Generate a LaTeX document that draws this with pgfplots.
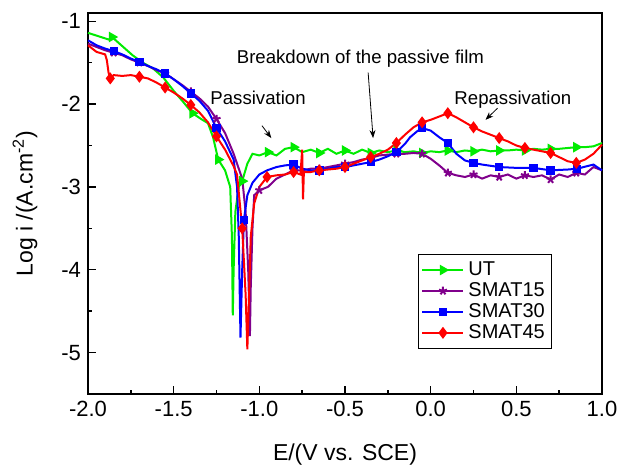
\documentclass[border=0pt]{standalone}
\usepackage{fontspec}
\setmainfont{Liberation Sans}
\usepackage{pgfplots}
\pgfplotsset{compat=1.18}
\usetikzlibrary{arrows.meta, calc}

\definecolor{cUT}{RGB}{0,235,0}
\definecolor{cS15}{RGB}{128,0,140}
\definecolor{cS30}{RGB}{0,0,255}
\definecolor{cS45}{RGB}{255,0,0}

\begin{document}
\begin{tikzpicture}
\begin{axis}[
  scale only axis,
  width=257pt, height=190.5pt,
  xmin=-2, xmax=1, ymin=-5.5, ymax=-0.9,
  xtick={-2,-1.5,...,1}, ytick={-5,-4,-3,-2,-1},
  minor x tick num=1, minor y tick num=1,
  tick align=inside, xtick pos=left, ytick pos=left,
  major tick length=4pt, minor tick length=2pt,
  axis line style={line width=0.8pt}, tick style={black, line width=0.7pt},
  /pgf/number format/assume math mode=true,
  xticklabel style={/pgf/number format/.cd, fixed, fixed zerofill, precision=1},
  yticklabel style={/pgf/number format/.cd, fixed, precision=0},
  ticklabel style={font=\fontsize{11}{12}\selectfont},
  xlabel={E/(V vs. SCE)}, ylabel={Log i /(A.cm\textsuperscript{-2})},
  label style={font=\fontsize{11.5}{13}\selectfont},
  xlabel style={at={(axis description cs:0.5,-0.160)}, anchor=center},
  ylabel style={at={(axis description cs:-0.1226,0.5)}, anchor=center},
  legend style={at={(0.642,0.367)}, anchor=north west, draw=black, line width=0.5pt,
    font=\fontsize{10}{11}\selectfont, inner sep=1.5pt, row sep=-2pt},
  legend cell align=left,
  legend image code/.code={\draw[mark indices={2}] plot coordinates {(0cm,0cm) (0.36cm,0cm) (0.72cm,0cm)};},
  every axis plot/.append style={line width=1pt, mark options={solid}},
  clip=false,
]
\addplot[color=cUT, mark=triangle*, mark size=2.1pt, mark options={rotate=-90},
  mark indices={4,12,16,24,28,31,34,37,40,43,46,49,52,55,58,61,64}] coordinates {
(-2.00,-1.14) (-1.94,-1.18) (-1.88,-1.22) (-1.86,-1.19) (-1.80,-1.30) (-1.74,-1.41)
(-1.68,-1.50) (-1.62,-1.57) (-1.56,-1.68) (-1.50,-1.84) (-1.45,-1.96) (-1.39,-2.11)
(-1.34,-2.18) (-1.30,-2.23) (-1.27,-2.40) (-1.24,-2.67) (-1.20,-2.80) (-1.17,-3.00)
(-1.16,-3.60) (-1.155,-4.55) (-1.15,-4.00) (-1.14,-3.30) (-1.12,-3.00) (-1.10,-2.93)
(-1.07,-2.72) (-1.04,-2.60) (-1.00,-2.62) (-0.95,-2.58) (-0.90,-2.62) (-0.85,-2.54)
(-0.80,-2.52) (-0.75,-2.58) (-0.70,-2.55) (-0.65,-2.59) (-0.60,-2.54) (-0.55,-2.60)
(-0.50,-2.56) (-0.45,-2.60) (-0.40,-2.55) (-0.35,-2.59) (-0.30,-2.56) (-0.25,-2.58)
(-0.20,-2.56) (-0.15,-2.58) (-0.10,-2.57) (-0.05,-2.59) (0.00,-2.57) (0.05,-2.58)
(0.10,-2.56) (0.15,-2.58) (0.20,-2.56) (0.25,-2.57) (0.30,-2.55) (0.35,-2.57)
(0.40,-2.56) (0.45,-2.56) (0.50,-2.55) (0.55,-2.56) (0.60,-2.54) (0.65,-2.55)
(0.70,-2.54) (0.75,-2.54) (0.80,-2.53) (0.85,-2.52) (0.90,-2.52) (0.95,-2.51) (1.00,-2.47)
};
\addlegendentry{UT}
\addplot[color=cS15, mark=star, mark size=2.1pt,
  mark indices={4,7,10,13,16,26,30,33,36,39,42,45,48,51,54,57,60,63}] coordinates {
(-2.00,-1.27) (-1.95,-1.31) (-1.90,-1.35) (-1.85,-1.38) (-1.80,-1.41) (-1.75,-1.46)
(-1.70,-1.50) (-1.65,-1.54) (-1.60,-1.59) (-1.55,-1.63) (-1.50,-1.70) (-1.45,-1.77)
(-1.40,-1.85) (-1.35,-1.93) (-1.30,-2.03) (-1.25,-2.18) (-1.20,-2.35) (-1.15,-2.60)
(-1.10,-2.90) (-1.08,-3.30) (-1.065,-4.00) (-1.055,-4.80) (-1.05,-4.20) (-1.04,-3.50)
(-1.03,-3.10) (-1.00,-3.04) (-0.95,-3.00) (-0.90,-2.90) (-0.85,-2.85) (-0.80,-2.80)
(-0.75,-2.80) (-0.70,-2.78) (-0.65,-2.78) (-0.60,-2.76) (-0.55,-2.74) (-0.50,-2.72)
(-0.45,-2.70) (-0.40,-2.67) (-0.35,-2.65) (-0.30,-2.62) (-0.25,-2.61) (-0.20,-2.60)
(-0.15,-2.60) (-0.10,-2.59) (-0.05,-2.60) (0.00,-2.66) (0.05,-2.74) (0.10,-2.83)
(0.15,-2.86) (0.20,-2.88) (0.25,-2.85) (0.30,-2.90) (0.35,-2.86) (0.40,-2.88)
(0.45,-2.85) (0.50,-2.90) (0.55,-2.86) (0.60,-2.88) (0.65,-2.86) (0.70,-2.91)
(0.75,-2.85) (0.80,-2.88) (0.85,-2.83) (0.90,-2.85) (0.95,-2.76) (1.00,-2.80)
};
\addlegendentry{SMAT15}
\addplot[color=cS30, mark=square*, mark size=1.6pt,
  mark indices={4,7,10,13,16,23,30,33,36,39,42,46,49,52,54,56,57,59}] coordinates {
(-2.00,-1.23) (-1.95,-1.29) (-1.90,-1.33) (-1.85,-1.36) (-1.80,-1.40) (-1.75,-1.45)
(-1.70,-1.49) (-1.65,-1.54) (-1.60,-1.58) (-1.55,-1.63) (-1.50,-1.70) (-1.45,-1.78)
(-1.40,-1.87) (-1.35,-1.96) (-1.30,-2.08) (-1.25,-2.29) (-1.20,-2.45) (-1.15,-2.67)
(-1.13,-3.00) (-1.12,-3.60) (-1.11,-4.82) (-1.10,-4.00) (-1.09,-3.40) (-1.07,-3.10)
(-1.04,-2.95) (-1.00,-2.85) (-0.955,-2.80) (-0.90,-2.76) (-0.85,-2.74) (-0.80,-2.73)
(-0.75,-2.78) (-0.70,-2.80) (-0.65,-2.80) (-0.60,-2.78) (-0.55,-2.76) (-0.50,-2.76)
(-0.45,-2.74) (-0.40,-2.72) (-0.35,-2.70) (-0.30,-2.67) (-0.25,-2.63) (-0.20,-2.58)
(-0.15,-2.48) (-0.12,-2.40) (-0.08,-2.33) (-0.05,-2.29) (0.00,-2.32) (0.05,-2.40)
(0.10,-2.47) (0.15,-2.60) (0.20,-2.68) (0.25,-2.71) (0.30,-2.73) (0.40,-2.76)
(0.50,-2.77) (0.60,-2.77) (0.70,-2.80) (0.80,-2.79) (0.855,-2.78) (0.95,-2.73) (1.00,-2.80)
};
\addlegendentry{SMAT30}
\addplot[color=cS45, mark=diamond*, mark size=2.2pt,
  mark indices={6,10,13,16,19,23,30,33,39,42,45,48,51,54,57,60,63,66,69}] coordinates {
(-2.00,-1.29) (-1.95,-1.37) (-1.90,-1.40) (-1.89,-1.47) (-1.88,-1.62) (-1.87,-1.69)
(-1.85,-1.65) (-1.80,-1.66) (-1.75,-1.65) (-1.70,-1.67) (-1.65,-1.69) (-1.60,-1.74)
(-1.55,-1.80) (-1.50,-1.86) (-1.45,-1.93) (-1.40,-2.01) (-1.35,-2.10) (-1.30,-2.22)
(-1.25,-2.39) (-1.20,-2.55) (-1.15,-2.75) (-1.13,-2.85) (-1.10,-3.50) (-1.08,-4.30)
(-1.07,-4.96) (-1.06,-4.30) (-1.05,-3.60) (-1.03,-3.20) (-1.00,-3.00) (-0.955,-2.88)
(-0.90,-2.86) (-0.85,-2.85) (-0.80,-2.82) (-0.76,-2.85) (-0.75,-2.55) (-0.745,-3.15)
(-0.74,-2.82) (-0.70,-2.82) (-0.65,-2.80) (-0.60,-2.79) (-0.55,-2.78) (-0.50,-2.76)
(-0.45,-2.72) (-0.40,-2.68) (-0.35,-2.64) (-0.30,-2.60) (-0.25,-2.55) (-0.20,-2.47)
(-0.15,-2.37) (-0.10,-2.28) (-0.05,-2.22) (0.00,-2.19) (0.05,-2.15) (0.10,-2.11)
(0.15,-2.16) (0.20,-2.22) (0.25,-2.28) (0.30,-2.33) (0.35,-2.37) (0.40,-2.41)
(0.45,-2.45) (0.50,-2.50) (0.55,-2.53) (0.60,-2.55) (0.65,-2.57) (0.70,-2.59)
(0.75,-2.64) (0.80,-2.69) (0.85,-2.71) (0.90,-2.67) (0.95,-2.60) (1.00,-2.49)
};
\addlegendentry{SMAT45}
\node[font=\fontsize{9.3}{11}\selectfont] at (axis cs:-1.0075,-1.93) {Passivation};
\draw[-{Stealth[length=4pt,width=3pt]}, line width=0.4pt] (axis cs:-0.985,-2.26) -- (axis cs:-0.93,-2.41);
\node[font=\fontsize{9.3}{11}\selectfont] at (axis cs:-0.41,-1.45) {Breakdown of the passive film};
\draw[-{Stealth[length=4pt,width=3pt]}, line width=0.4pt] (axis cs:-0.365,-1.62) -- (axis cs:-0.336,-2.41);
\node[font=\fontsize{9.3}{11}\selectfont] at (axis cs:0.48,-1.95) {Repassivation};
\draw[-{Stealth[length=4pt,width=3pt]}, line width=0.4pt] (axis cs:0.39,-2.05) -- (axis cs:0.32,-2.19);
\end{axis}
\pgfresetboundingbox
\path ($(current axis.south west)+(-44pt,-36.5pt)$) rectangle ($(current axis.north east)+(8.5pt,6.5pt)$);
\end{tikzpicture}
\end{document}
